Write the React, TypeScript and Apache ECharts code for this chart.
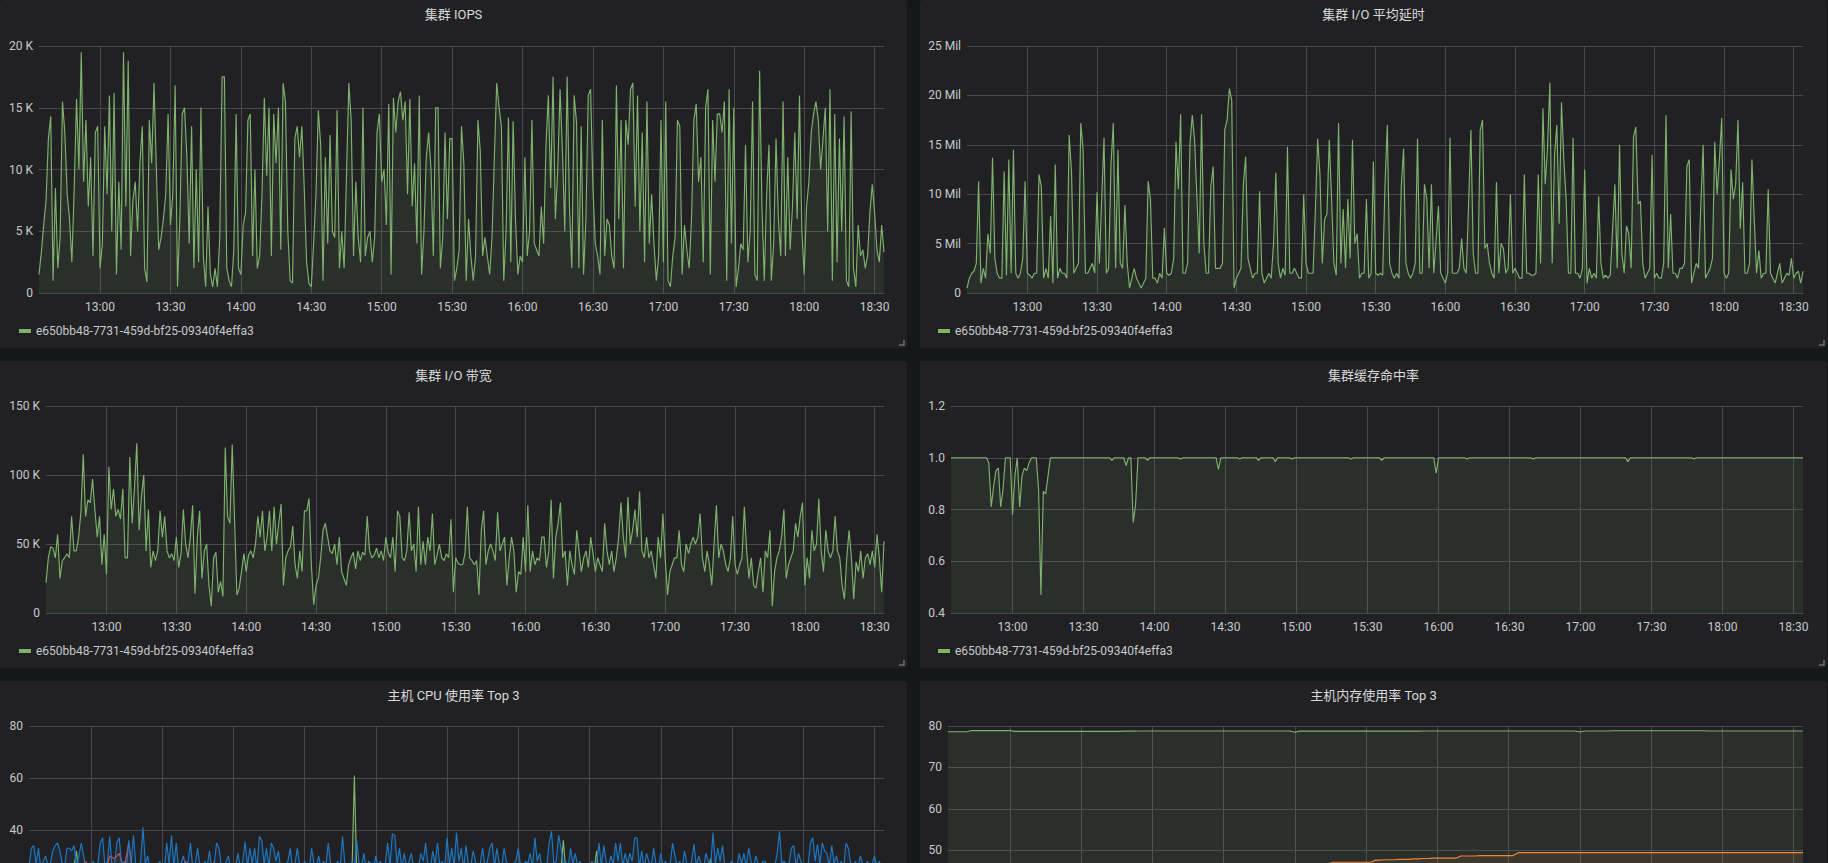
import React, { useEffect, useRef } from "react";
import * as echarts from "echarts";

// ---------- time axis (minutes after midnight) ----------
const START_MIN = 754; // 12:34
const END_MIN = 1114; // 18:34
const TIME_TICKS = [780, 810, 840, 870, 900, 930, 960, 990, 1020, 1050, 1080, 1110];

const LEGEND_NAME = "e650bb48-7731-459d-bf25-09340f4effa3";
const TITLES = [
  "集群 IOPS",
  "集群 I/O 平均延时",
  "集群 I/O 带宽",
  "集群缓存命中率",
  "主机 CPU 使用率 Top 3",
  "主机内存使用率 Top 3",
];

// ---------- data (1 value per minute unless noted) ----------
// IOPS, thousands
const IOPS_K = [
  1.5, 3.3, 5.5, 7.5, 12.5, 14.3, 1, 8.5, 2, 4.5,
  15.5, 13, 8, 6, 2.5, 8.5, 15.7, 10, 19.5, 9,
  14, 7, 11, 3, 13, 13.5, 2, 4, 13.5, 8,
  16, 5, 16.2, 1.5, 9, 3.5, 19.5, 7, 18.8, 3,
  7.5, 9, 5, 10.5, 13.5, 2, 0.9, 14, 10.5, 17,
  10, 3.5, 4.5, 6, 8, 14.5, 5.5, 8, 16.8, 0.5,
  6, 14.5, 15, 11, 4, 13.5, 2, 10, 2.5, 15,
  3, 0.5, 7, 1.5, 0.5, 2, 0.5, 4.5, 17.5, 17.5,
  2, 1, 0.5, 3.5, 14.5, 2, 1.5, 5.5, 6.5, 14,
  14.5, 3, 10, 2, 3, 8, 15.8, 9.5, 15, 3,
  14.5, 10.5, 15, 3.5, 17, 15.5, 5, 1, 0.8, 12.5,
  13.5, 11, 13.5, 8.5, 2.5, 0.8, 0.5, 4, 8, 14.8,
  12, 1, 11, 4, 12.8, 5, 4.5, 14.8, 2, 5,
  2, 9.5, 17, 14, 3, 9, 4.5, 2.5, 15, 3,
  4.5, 5, 2.5, 4.5, 13, 14.5, 9, 10, 5.5, 15.3,
  1.5, 15.8, 13, 15.5, 16.3, 14, 15.5, 8, 15.7, 7,
  10.5, 4, 16, 1.5, 5, 11, 13, 10, 3, 15,
  15, 2, 4.5, 13, 6, 12.5, 12.5, 1, 2, 3.5,
  13.5, 10.5, 1, 6, 3, 1, 3, 14, 11.5, 3,
  4.5, 3, 1.5, 4.5, 11, 17, 15, 13.5, 1, 5,
  14.2, 2.5, 13.9, 6, 1.5, 3, 2.5, 11, 3, 5,
  14, 4, 3.5, 3, 7, 4, 12, 16, 8.5, 17.5,
  6, 10, 16.5, 11.5, 5, 17.5, 7, 2, 16, 13.8,
  2, 13.5, 1.5, 6, 16, 16.5, 8.5, 4, 3, 1.5,
  14, 3, 6, 5.5, 3, 2, 16.8, 6, 14, 2,
  14, 12, 16.5, 17, 7, 16, 5, 13, 2.5, 15.5,
  4, 8, 4, 1, 3, 14, 2.5, 15.5, 1, 0.5,
  3, 4.5, 14, 13.5, 1.5, 5.5, 3.5, 2, 6, 14,
  15.3, 9, 11, 2.5, 15, 16.5, 1.5, 14, 9, 14.5,
  14.5, 13, 15.5, 1, 16.5, 4, 15, 0.5, 2, 4,
  3.5, 12, 2.5, 5, 15.5, 1.5, 1, 18, 7, 1,
  8, 12, 1, 4, 12.5, 6, 3, 15.5, 3, 11,
  3.5, 7, 13, 6, 16, 5, 1.5, 7, 9, 13,
  14.5, 15.5, 14, 10, 12.5, 15, 5, 16.5, 1, 14.5,
  2.5, 12.5, 5, 14.3, 1, 0.5, 14.7, 2, 0.5, 5.5,
  3, 3.5, 2, 3, 6.5, 8.8, 6.5, 3.5, 2.5, 5.5, 3.3,
];

// average I/O latency, millions
const LATENCY_MIL = [
  0.5, 1.5, 2, 2.2, 3, 11.3, 1, 2.5, 1.5, 6,
  4, 13.7, 3.5, 2, 1.5, 1.5, 12.3, 1.8, 13.5, 2,
  14.5, 2, 1.5, 2, 3.5, 11.3, 2, 1.8, 1.5, 2,
  2, 12, 10.8, 1.5, 2.5, 1.5, 7.8, 1, 13, 1.5,
  2.5, 2, 2, 1.5, 16, 12.3, 2, 2.5, 3, 17.2,
  14.5, 2, 2, 2.5, 3, 2, 10.2, 3, 9.5, 15.7,
  2, 2.5, 13, 17.2, 2.5, 14.5, 3, 2.5, 8.9, 3,
  0.5, 1.5, 2.5, 1.5, 1, 0.5, 1, 1.5, 11.3, 9.5,
  1.5, 1.5, 1, 2, 1.5, 6.6, 2, 1.8, 2, 3.5,
  15.3, 10.5, 18.1, 2, 2, 3, 15, 18, 15.5, 9.8,
  4, 18.1, 5, 2, 2, 10.8, 12.8, 2.5, 2.5, 2.5,
  3, 16.5, 17.5, 20.7, 19.5, 0.5, 1.5, 2, 2.5, 11,
  13.8, 3.5, 2.5, 1.5, 2, 2, 10.3, 2, 1, 1.5,
  2, 1.5, 5, 12.2, 3, 1.5, 2.5, 1.8, 14.8, 2,
  2, 2.5, 2, 1.5, 1.5, 10, 3, 2, 2, 2,
  8.2, 15.6, 12, 3, 7.5, 8, 15.5, 9.5, 3, 1.8,
  17.2, 3, 8.5, 2.5, 9.5, 3.5, 15.5, 5, 6, 1.5,
  2, 2, 9.5, 1.5, 2, 13.3, 2, 1.8, 2, 1.8,
  11, 17, 3, 2, 1.5, 2, 1.5, 10.8, 14.6, 3,
  2, 1.5, 2, 3, 15.6, 2, 2, 11, 9.5, 2.5,
  11, 2, 5.3, 8.8, 2, 1.5, 1, 2, 15.7, 2,
  2, 2, 2.5, 5.5, 2.5, 2, 9, 16.5, 4, 2,
  2, 16.5, 17.5, 4.5, 5, 3, 2, 1.5, 11.2, 2,
  5, 4.5, 2, 2.5, 10, 2, 2.5, 2, 1.5, 1.5,
  12, 2, 2, 1.8, 1.8, 2, 12, 3, 18.7, 11,
  14.8, 21.3, 3, 14, 17, 7, 19.3, 13.5, 9.5, 2,
  2, 15.7, 2, 2, 1.5, 2.5, 12.5, 1, 2.5, 1.5,
  2, 1.5, 9.8, 3, 1.5, 1.8, 1.5, 1.8, 6.5, 11,
  2.5, 15, 4, 2, 6.8, 6, 2.5, 15.8, 16.8, 9,
  9.3, 3, 1.5, 2, 2.5, 14, 1.5, 2, 1.5, 1.5,
  3, 18, 2.5, 8, 2, 2, 1.5, 2.5, 2.5, 3,
  12.8, 13.5, 1, 2, 3, 2.5, 9, 15, 1.5, 2,
  2.5, 3.5, 15.3, 10, 13.5, 17.7, 2, 1.5, 2, 12.5,
  9.5, 11, 17.5, 6.5, 11.2, 2, 2, 3, 13.5, 7.5,
  2, 4.3, 1.5, 2, 2, 10.5, 2, 1.5, 1, 2,
  3, 1, 1.5, 2, 1.8, 3.5, 1.5, 2, 2.2, 1, 2.2,
];

// I/O bandwidth, thousands
const BANDWIDTH_K = [
  22, 40, 48, 47, 40, 57, 25, 38, 40, 43,
  40, 70, 45, 45, 55, 73, 115, 70, 82, 80,
  97, 75, 55, 70, 35, 57, 28, 106, 75, 90,
  70, 75, 68, 90, 40, 40, 113, 65, 90, 123,
  60, 85, 100, 45, 75, 33, 45, 38, 45, 74,
  55, 70, 45, 40, 43, 38, 55, 33, 43, 75,
  50, 40, 55, 78, 14, 55, 74, 25, 45, 50,
  20, 5, 40, 44, 15, 23, 12, 120, 70, 65,
  122, 68, 13, 18, 30, 43, 30, 42, 45, 40,
  50, 70, 55, 74, 45, 55, 74, 45, 77, 50,
  65, 79, 20, 40, 45, 48, 63, 35, 25, 45,
  30, 74, 74, 83, 35, 6, 20, 25, 40, 60,
  65, 55, 45, 43, 50, 35, 55, 30, 25, 20,
  35, 40, 44, 32, 45, 38, 44, 42, 70, 45,
  40, 42, 47, 40, 45, 38, 55, 44, 40, 55,
  30, 74, 70, 40, 38, 45, 73, 45, 50, 30,
  77, 35, 52, 35, 55, 45, 72, 35, 42, 50,
  40, 38, 43, 40, 68, 15, 40, 36, 35, 35,
  43, 77, 40, 38, 35, 38, 13, 60, 74, 35,
  45, 50, 45, 38, 73, 45, 50, 55, 20, 40,
  55, 45, 15, 30, 28, 55, 30, 78, 30, 45,
  35, 40, 38, 55, 55, 33, 45, 82, 25, 55,
  65, 80, 40, 45, 20, 45, 35, 28, 60, 45,
  30, 40, 45, 33, 55, 43, 30, 40, 35, 30,
  65, 45, 35, 45, 30, 40, 55, 80, 55, 40,
  84, 50, 60, 75, 55, 88, 45, 40, 55, 40,
  45, 35, 25, 55, 40, 72, 40, 13, 30, 35,
  40, 40, 60, 35, 30, 50, 43, 50, 55, 50,
  55, 72, 40, 30, 45, 35, 20, 50, 78, 40,
  50, 45, 35, 30, 40, 70, 35, 28, 35, 40,
  77, 45, 25, 40, 20, 18, 30, 40, 15, 45,
  40, 60, 5, 30, 40, 45, 55, 75, 25, 35,
  40, 45, 65, 55, 70, 80, 20, 40, 25, 60,
  45, 50, 83, 45, 30, 60, 45, 40, 45, 70,
  45, 40, 20, 10, 40, 60, 40, 10, 37, 30,
  45, 25, 40, 43, 35, 45, 33, 57, 40, 15, 52,
];

// cache hit ratio
const CACHE_HIT = [
  1, 1, 1, 1, 1, 1, 1, 1, 1, 1,
  1, 1, 1, 1, 1, 1, 0.98, 0.81, 0.89, 0.95,
  0.96, 0.81, 0.88, 1, 1, 1, 0.78, 0.93, 1, 0.81,
  0.93, 0.96, 0.95, 0.98, 1, 1, 1, 0.88, 0.47, 0.87,
  0.86, 0.93, 1, 1, 1, 1, 1, 1, 1, 1,
  1, 1, 1, 1, 1, 1, 1, 1, 1, 1,
  1, 1, 1, 1, 1, 1, 1, 1, 0.99, 1,
  1, 1, 1, 1, 0.97, 1, 1, 0.75, 0.82, 1,
  1, 1, 1, 0.99, 1, 1, 1, 1, 1, 1,
  1, 1, 1, 1, 1, 1, 1, 0.995, 1, 1,
  1, 1, 1, 1, 1, 1, 1, 1, 1, 1,
  1, 1, 1, 0.955, 1, 1, 1, 1, 1, 1,
  1, 1, 0.995, 1, 1, 1, 1, 1, 1, 1,
  0.99, 1, 1, 1, 1, 1, 1, 0.985, 1, 1,
  1, 1, 1, 1, 0.995, 1, 1, 1, 1, 1,
  1, 1, 1, 1, 1, 1, 1, 1, 1, 1,
  1, 1, 1, 1, 1, 1, 1, 1, 1, 0.995,
  1, 1, 1, 1, 1, 1, 1, 1, 1, 1,
  1, 1, 0.99, 1, 1, 1, 1, 1, 1, 1,
  1, 1, 1, 1, 1, 1, 1, 1, 1, 1,
  1, 1, 1, 1, 1, 0.94, 1, 1, 1, 1,
  1, 1, 1, 1, 1, 1, 1, 1, 0.995, 1,
  1, 1, 1, 1, 1, 1, 1, 1, 1, 1,
  1, 1, 1, 1, 1, 1, 1, 1, 1, 1,
  1, 1, 1, 1, 1, 1, 0.995, 1, 1, 1,
  1, 1, 1, 1, 1, 1, 1, 1, 1, 1,
  1, 1, 1, 1, 1, 1, 1, 1, 1, 1,
  1, 1, 1, 1, 1, 1, 1, 1, 1, 1,
  1, 1, 1, 1, 1, 1, 0.985, 1, 1, 1,
  1, 1, 1, 1, 1, 1, 1, 1, 1, 1,
  1, 1, 1, 1, 1, 1, 1, 1, 1, 1,
  1, 1, 1, 1, 0.995, 1, 1, 1, 1, 1,
  1, 1, 1, 1, 1, 1, 1, 1, 1, 1,
  1, 1, 1, 1, 1, 1, 1, 1, 1, 1,
  1, 1, 1, 1, 1, 1, 1, 1, 1, 1,
  1, 1, 1, 1, 1, 1, 1, 1, 1, 1, 1,
];

// host CPU usage %, top 3
const CPU_GREEN = [
  22, 21, 23, 22, 24, 21, 22, 23, 21, 22,
  23, 22, 21, 24, 22, 23, 21, 22, 24, 26,
  32, 23, 22, 21, 23, 22, 24, 21, 22, 23,
  21, 22, 24, 23, 22, 21, 23, 22, 24, 21,
  22, 23, 21, 22, 24, 22, 23, 21, 22, 23,
  24, 21, 22, 23, 22, 21, 24, 22, 23, 21,
  22, 24, 23, 21, 22, 23, 22, 21, 24, 22,
  23, 21, 22, 24, 22, 23, 21, 22, 23, 24,
  21, 22, 23, 22, 24, 21, 22, 23, 21, 22,
  24, 23, 22, 21, 23, 22, 24, 21, 22, 23,
  21, 22, 24, 23, 22, 21, 23, 22, 24, 21,
  22, 23, 21, 22, 24, 22, 23, 21, 22, 23,
  24, 21, 22, 23, 22, 21, 24, 22, 23, 21,
  22, 24, 23, 21, 22, 23, 24, 61, 23, 22,
  23, 21, 22, 24, 22, 23, 21, 22, 23, 24,
  21, 22, 23, 22, 24, 21, 22, 23, 21, 22,
  24, 23, 22, 21, 23, 22, 24, 21, 22, 23,
  21, 22, 24, 23, 22, 21, 23, 22, 24, 21,
  22, 23, 21, 22, 24, 22, 23, 21, 22, 23,
  24, 21, 22, 23, 22, 21, 24, 22, 23, 21,
  22, 24, 23, 21, 22, 23, 22, 21, 24, 22,
  23, 21, 22, 24, 22, 23, 21, 22, 23, 24,
  21, 22, 23, 22, 25, 36, 24, 23, 21, 22,
  24, 23, 22, 21, 23, 22, 24, 21, 25, 32,
  23, 22, 24, 21, 22, 23, 21, 22, 24, 23,
  22, 21, 23, 22, 24, 21, 22, 23, 21, 22,
  24, 23, 22, 21, 23, 22, 24, 21, 22, 23,
  21, 22, 24, 23, 22, 21, 23, 22, 24, 21,
  22, 23, 21, 22, 24, 22, 25, 29, 23, 22,
  24, 21, 22, 23, 22, 21, 24, 22, 23, 21,
  22, 24, 23, 21, 22, 23, 22, 21, 24, 22,
  23, 21, 22, 24, 22, 23, 21, 22, 23, 24,
  21, 22, 23, 22, 24, 21, 22, 23, 21, 22,
  24, 23, 22, 21, 23, 22, 24, 21, 22, 23,
  21, 22, 24, 23, 22, 21, 23, 22, 24, 21,
  22, 23, 21, 22, 24, 22, 23, 21, 22, 23, 22,
];

// one value every 2 minutes
const CPU_RED_2MIN = [
  18, 20, 17, 19, 21, 18, 20, 19, 22, 20,
  21, 19, 28, 20, 22, 21, 24, 30, 29, 31,
  25, 35, 22, 20, 19, 21, 18, 20, 19, 17,
  20, 21, 19, 28, 20, 18, 21, 19, 20, 28,
  19, 18, 20, 17, 19, 21, 18, 20, 19, 17,
  20, 18, 19, 21, 17, 19, 20, 18, 21, 19,
  18, 20, 17, 19, 21, 18, 20, 19, 17, 20,
  19, 21, 18, 20, 17, 19, 21, 18, 20, 19,
  17, 20, 19, 18, 21, 19, 20, 17, 19, 18,
  20, 21, 18, 19, 17, 20, 19, 21, 18, 20,
  19, 17, 20, 18, 19, 21, 18, 20, 19, 17,
  20, 18, 21, 19, 17, 20, 19, 18, 21, 19,
  18, 20, 17, 19, 21, 18, 20, 19, 17, 20,
  19, 21, 18, 20, 17, 19, 21, 18, 20, 19,
  17, 20, 19, 18, 21, 19, 20, 17, 19, 18,
  20, 21, 18, 19, 17, 20, 19, 21, 18, 20,
  19, 17, 20, 18, 19, 21, 18, 20, 19, 17,
  20, 18, 21, 19, 17, 20, 19, 18, 21, 19, 18,
];

const CPU_BLUE = [
  26, 33, 34, 27, 33, 25, 28, 30, 26, 27,
  32, 34, 35, 32, 27, 26, 33, 33, 32, 34,
  26, 30, 35, 30, 25, 27, 24, 28, 26, 27,
  35, 37, 26, 28, 37.5, 25, 27, 35, 37, 26,
  28, 25, 36, 27, 38, 26, 24, 28, 41, 27,
  30, 25, 27, 26, 24, 28, 26, 25, 35, 27,
  38, 26, 35, 25, 27, 30, 26, 28, 35, 25,
  27, 33, 26, 24, 28, 26, 32, 25, 27, 35,
  33, 26, 25, 28, 30, 24, 27, 26, 31, 25,
  28, 35.5, 26, 33, 27, 33, 25, 37.5, 36, 27,
  33, 26, 35, 33, 28, 32, 25, 27, 26, 28,
  33, 25, 27, 33, 26, 24, 28, 26, 25, 33,
  27, 26, 30, 25, 28, 26, 35, 27, 24, 26,
  28, 25, 37.5, 27, 26, 24, 28, 25, 36, 27,
  26, 31, 25, 28, 27, 24, 30, 26, 28, 25,
  27, 35, 26, 38.5, 38, 27, 33, 25, 31, 26,
  28, 31, 25, 27, 26, 31, 28, 35, 26, 25,
  32, 27, 35, 26, 28, 25, 37, 27, 33, 26,
  39, 28, 33, 25, 34, 27, 26, 32, 28, 25,
  27, 33, 26, 28, 33, 35, 26, 33, 27, 25,
  33, 28, 26, 24, 27, 28, 33, 26, 25, 28,
  27, 31, 26, 37, 28, 31, 25, 27, 26, 35,
  39.5, 27, 28, 38, 33, 26, 28, 25, 33, 27,
  31, 26, 28, 25, 27, 26, 24, 28, 26, 27,
  35, 26, 34, 28, 26, 30, 27, 35, 28, 35,
  26, 31, 27, 31, 28, 37, 37, 26, 32, 25,
  31, 28, 26, 33, 27, 25, 31, 26, 28, 25,
  27, 35, 30, 26, 28, 25, 32, 27, 26, 28,
  34.5, 26, 30, 27, 25, 31, 28, 26, 39, 27,
  33, 28, 34, 26, 25, 27, 28, 26, 25, 31,
  27, 31, 26, 33, 28, 25, 30, 27, 26, 28,
  28, 26, 25, 27, 26, 31, 39.5, 27, 28, 26,
  27, 33, 34, 26, 31, 28, 25, 27, 26, 35,
  37, 28, 34.5, 27, 35, 32, 31, 26, 34, 27,
  30, 26, 28, 25, 35, 33, 27, 26, 28, 25,
  30, 27, 26, 28, 25, 27, 30, 26, 28, 25, 27,
];

// host memory usage %, one value every 2 minutes
const MEM_GREEN_2MIN = [
  78.6, 78.6, 78.6, 78.6, 78.6, 78.9, 78.9, 78.9, 78.9, 78.9,
  78.9, 78.9, 78.9, 78.9, 78.7, 78.7, 78.7, 78.7, 78.7, 78.7,
  78.7, 78.7, 78.7, 78.7, 78.7, 78.7, 78.7, 78.7, 78.7, 78.7,
  78.7, 78.7, 78.7, 78.7, 78.7, 78.7, 78.7, 78.75, 78.75, 78.75,
  78.8, 78.8, 78.8, 78.8, 78.8, 78.8, 78.8, 78.8, 78.8, 78.8,
  78.8, 78.8, 78.8, 78.8, 78.8, 78.8, 78.8, 78.8, 78.8, 78.8,
  78.8, 78.8, 78.8, 78.8, 78.8, 78.8, 78.8, 78.8, 78.8, 78.8,
  78.8, 78.8, 78.8, 78.5, 78.75, 78.75, 78.75, 78.75, 78.75, 78.75,
  78.75, 78.75, 78.75, 78.75, 78.75, 78.75, 78.75, 78.75, 78.75, 78.75,
  78.75, 78.75, 78.75, 78.75, 78.75, 78.75, 78.75, 78.75, 78.75, 78.75,
  78.8, 78.8, 78.8, 78.8, 78.8, 78.8, 78.8, 78.8, 78.8, 78.8,
  78.8, 78.8, 78.8, 78.8, 78.8, 78.8, 78.8, 78.8, 78.8, 78.8,
  78.8, 78.8, 78.8, 78.8, 78.8, 78.8, 78.8, 78.8, 78.8, 78.8,
  78.8, 78.8, 78.8, 78.55, 78.8, 78.8, 78.8, 78.8, 78.8, 78.8,
  78.85, 78.85, 78.85, 78.85, 78.85, 78.85, 78.85, 78.85, 78.85, 78.85,
  78.85, 78.85, 78.85, 78.85, 78.85, 78.85, 78.85, 78.85, 78.85, 78.85,
  78.8, 78.8, 78.8, 78.8, 78.8, 78.8, 78.8, 78.8, 78.8, 78.8,
  78.8, 78.8, 78.8, 78.8, 78.8, 78.8, 78.8, 78.8, 78.8, 78.8, 78.8,
];

const MEM_ORANGE_2MIN = [
  45.0, 45.0, 45.1, 45.1, 45.1, 45.2, 45.2, 45.2, 45.3, 45.3,
  45.3, 45.4, 45.4, 45.4, 45.5, 45.5, 45.5, 45.6, 45.6, 45.6,
  45.7, 45.7, 45.7, 45.8, 45.8, 45.8, 45.9, 45.9, 45.9, 46.0,
  46.0, 46.0, 46.1, 46.1, 46.1, 46.2, 46.2, 46.2, 46.3, 46.3,
  46.3, 46.3, 46.4, 46.4, 46.4, 46.4, 46.5, 46.5, 46.5, 46.5,
  46.5, 46.5, 46.6, 46.6, 46.6, 46.6, 46.6, 46.6, 46.6, 46.6,
  46.6, 46.6, 46.7, 46.7, 46.7, 46.7, 46.7, 46.7, 46.7, 46.7,
  46.7, 46.7, 46.7, 46.7, 46.7, 46.7, 46.7, 46.7, 46.7, 46.7, 46.7,
  47.1, 47.1, 47.1, 47.1, 47.1, 47.1, 47.1, 47.1, 47.1,
  47.6, 47.6, 47.7, 47.7, 47.7, 47.8, 47.8, 47.8, 47.9, 47.9,
  48.0, 48.0, 48.1, 48.1, 48.1, 48.1, 48.1, 48.1, 48.6, 48.6,
  48.6, 48.6, 48.7, 48.7, 48.7, 48.7, 48.7, 48.7, 48.7, 48.7,
  49.4, 49.4, 49.4, 49.4, 49.4, 49.4, 49.4, 49.4, 49.4, 49.4,
  49.4, 49.4, 49.4, 49.4, 49.4, 49.4, 49.4, 49.4, 49.4, 49.4,
  49.4, 49.4, 49.4, 49.4, 49.4, 49.4, 49.4, 49.4, 49.4, 49.4,
  49.4, 49.4, 49.4, 49.4, 49.4, 49.4, 49.4, 49.4, 49.4, 49.4,
  49.4, 49.4, 49.4, 49.4, 49.4, 49.4, 49.4, 49.4, 49.4, 49.4,
  49.4, 49.4, 49.4, 49.4, 49.4, 49.4, 49.4, 49.4, 49.4, 49.4, 49.4,
];

// ---------- styles ----------
const FONT = "Roboto, 'Noto Sans CJK SC', 'Noto Sans', sans-serif";
const PAGE_BG = "#161719";
const PANEL_BG = "#212124";
const GRID_COLOR = "#48484b";
const LABEL_COLOR = "#c7c9cc";
const TITLE_COLOR = "#d8d9da";
const GREEN = "#7EB26D";
const BLUE = "#1F78C1";
const RED = "#E24D42";
const ORANGE = "#EF843C";

type SeriesSpec = { name: string; color: string; values: number[]; step: number; scale: number };
type PanelSpec = {
  id: string;
  left: number;
  top: number;
  width: number;
  height: number;
  title: string;
  grid: { left: number; right: number; top: number; bottom: number };
  yMin: number;
  yMax: number;
  yInterval: number;
  yFormat: (v: number) => string;
  yHideBelow?: number;
  showXLabels: boolean;
  legend: { left: number; top: number } | null;
  series: SeriesSpec[];
};

const pad2 = (n: number) => (n < 10 ? "0" + n : "" + n);
const fmtClock = (v: number) => `${Math.floor(v / 60)}:${pad2(Math.round(v % 60))}`;
const fmtK = (v: number) => (v === 0 ? "0" : `${Math.round(v / 1000)} K`);
const fmtMil = (v: number) => (v === 0 ? "0" : `${Math.round(v / 1e6)} Mil`);
const fmtFixed1 = (v: number) => v.toFixed(1);
const fmtInt = (v: number) => `${Math.round(v)}`;

const PANELS: PanelSpec[] = [
  {
    id: "iops", left: 0, top: 0, width: 907, height: 348, title: TITLES[0],
    grid: { left: 39, right: 23, top: 46, bottom: 55 },
    yMin: 0, yMax: 20000, yInterval: 5000, yFormat: fmtK, showXLabels: true,
    legend: { left: 19, top: 325 },
    series: [{ name: LEGEND_NAME, color: GREEN, values: IOPS_K, step: 1, scale: 1000 }],
  },
  {
    id: "latency", left: 920, top: 0, width: 907, height: 348, title: TITLES[1],
    grid: { left: 47, right: 24, top: 46, bottom: 55 },
    yMin: 0, yMax: 25e6, yInterval: 5e6, yFormat: fmtMil, showXLabels: true,
    legend: { left: 18, top: 325 },
    series: [{ name: LEGEND_NAME, color: GREEN, values: LATENCY_MIL, step: 1, scale: 1e6 }],
  },
  {
    id: "bandwidth", left: 0, top: 361, width: 907, height: 307, title: TITLES[2],
    grid: { left: 46, right: 23, top: 45, bottom: 55 },
    yMin: 0, yMax: 150000, yInterval: 50000, yFormat: fmtK, showXLabels: true,
    legend: { left: 19, top: 284 },
    series: [{ name: LEGEND_NAME, color: GREEN, values: BANDWIDTH_K, step: 1, scale: 1000 }],
  },
  {
    id: "cache", left: 920, top: 361, width: 907, height: 307, title: TITLES[3],
    grid: { left: 31, right: 24, top: 45, bottom: 55 },
    yMin: 0.4, yMax: 1.2, yInterval: 0.2, yFormat: fmtFixed1, showXLabels: true,
    legend: { left: 18, top: 284 },
    series: [{ name: LEGEND_NAME, color: GREEN, values: CACHE_HIT, step: 1, scale: 1 }],
  },
  {
    id: "cpu", left: 0, top: 681, width: 907, height: 307, title: TITLES[4],
    grid: { left: 29, right: 23, top: 45, bottom: 54 },
    yMin: 0, yMax: 80, yInterval: 20, yFormat: fmtInt, yHideBelow: 40, showXLabels: false,
    legend: null,
    series: [
      { name: "cpu-host-a", color: GREEN, values: CPU_GREEN, step: 1, scale: 1 },
      { name: "cpu-host-b", color: RED, values: CPU_RED_2MIN, step: 2, scale: 1 },
      { name: "cpu-host-c", color: BLUE, values: CPU_BLUE, step: 1, scale: 1 },
    ],
  },
  {
    id: "mem", left: 920, top: 681, width: 907, height: 307, title: TITLES[5],
    grid: { left: 28, right: 24, top: 45, bottom: 55 },
    yMin: 30, yMax: 80, yInterval: 10, yFormat: fmtInt, yHideBelow: 50, showXLabels: false,
    legend: null,
    series: [
      { name: "mem-host-a", color: GREEN, values: MEM_GREEN_2MIN, step: 2, scale: 1 },
      { name: "mem-host-b", color: ORANGE, values: MEM_ORANGE_2MIN, step: 2, scale: 1 },
    ],
  },
];

function buildOption(p: PanelSpec) {
  const w = p.width;
  const h = p.height;
  return {
    animation: false,
    backgroundColor: "transparent",
    textStyle: { fontFamily: FONT },
    title: {
      text: p.title,
      left: "center",
      top: 8,
      padding: 0,
      textStyle: { color: TITLE_COLOR, fontSize: 13, fontWeight: "normal", fontFamily: FONT },
    },
    grid: { left: p.grid.left, right: p.grid.right, top: p.grid.top, bottom: p.grid.bottom, containLabel: false },
    xAxis: {
      type: "value",
      min: START_MIN,
      max: END_MIN,
      axisLine: { show: true, onZero: false, lineStyle: { color: GRID_COLOR, width: 1 } },
      axisTick: { show: false, customValues: TIME_TICKS },
      axisLabel: {
        show: p.showXLabels,
        customValues: TIME_TICKS,
        formatter: fmtClock,
        color: LABEL_COLOR,
        fontSize: 12,
        margin: 8,
        fontFamily: FONT,
      },
      splitLine: { show: true, lineStyle: { color: GRID_COLOR, width: 1 } },
    },
    yAxis: {
      type: "value",
      min: p.yMin,
      max: p.yMax,
      interval: p.yInterval,
      axisLine: { show: false },
      axisTick: { show: false },
      axisLabel: {
        color: LABEL_COLOR,
        fontSize: 12,
        margin: 6,
        fontFamily: FONT,
        // labels that fall below the bottom edge of the window are not shown
        formatter: (v: number) => (p.yHideBelow !== undefined && v < p.yHideBelow - 1e-9 ? "" : p.yFormat(v)),
      },
      splitLine: { show: true, lineStyle: { color: GRID_COLOR, width: 1 } },
    },
    legend: p.legend
      ? {
          show: true,
          left: p.legend.left,
          top: p.legend.top,
          padding: 0,
          icon: "rect",
          itemWidth: 12,
          itemHeight: 4,
          itemGap: 10,
          selectedMode: false,
          textStyle: { color: LABEL_COLOR, fontSize: 12, fontFamily: FONT },
          data: p.series.map((s) => s.name),
        }
      : { show: false },
    graphic: [
      {
        type: "polyline",
        silent: true,
        shape: { points: [[w - 8, h - 3], [w - 3, h - 3], [w - 3, h - 8]] },
        style: { stroke: "#6f6f72", lineWidth: 1.5, fill: null },
      },
    ],
    series: p.series.map((s) => ({
      type: "line",
      name: s.name,
      data: s.values.map((v, i) => [START_MIN + i * s.step, v * s.scale]),
      showSymbol: false,
      symbol: "none",
      smooth: false,
      silent: true,
      clip: true,
      lineStyle: { color: s.color, width: 1.15 },
      itemStyle: { color: s.color },
      areaStyle: { color: s.color, opacity: 0.1 },
      emphasis: { disabled: true },
    })),
  };
}

function Panel({ spec }: { spec: PanelSpec }) {
  const ref = useRef<HTMLDivElement>(null);
  useEffect(() => {
    if (!ref.current) return;
    const chart = echarts.init(ref.current, null, { renderer: "svg" });
    chart.setOption(buildOption(spec) as any);
    return () => chart.dispose();
  }, [spec]);
  return (
    <div
      style={{
        position: "absolute",
        left: spec.left,
        top: spec.top,
        width: spec.width,
        height: spec.height,
        background: PANEL_BG,
        borderRadius: 3,
      }}
    >
      <div ref={ref} style={{ width: spec.width, height: spec.height }} />
    </div>
  );
}

export default function App() {
  return (
    <div
      style={{
        position: "fixed",
        left: 0,
        top: 0,
        width: 1828,
        height: 863,
        overflow: "hidden",
        background: PAGE_BG,
        fontFamily: FONT,
      }}
    >
      {PANELS.map((p) => (
        <Panel key={p.id} spec={p} />
      ))}
    </div>
  );
}
